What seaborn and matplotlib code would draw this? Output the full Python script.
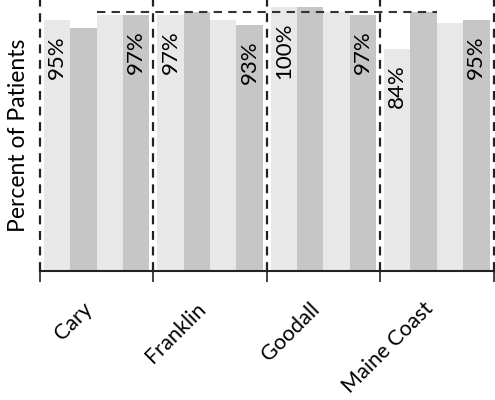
import numpy as np
import pandas as pd
import matplotlib
matplotlib.use("Agg")
import matplotlib.pyplot as plt
import seaborn as sns

# Sites and the four measures shown per site (percent of patients)
sites = ["Cary", "Franklin", "Goodall", "Maine Coast"]
measures = ["Measure 1", "Measure 2", "Measure 3", "Measure 4"]
measure_1 = [95, 97, 100, 84]
measure_2 = [92, 98, 100, 98]
measure_3 = [97, 95, 98, 94]
measure_4 = [97, 93, 97, 95]
target_level = 98

values = [measure_1, measure_2, measure_3, measure_4]
df = pd.DataFrame(
    [(s, m, v) for m, vals in zip(measures, values) for s, v in zip(sites, vals)],
    columns=["site", "measure", "pct"],
)

light = "#e8e8e8"
dark = "#c6c6c6"

sns.set_theme(style="white")
plt.rcParams["font.family"] = ["Lato", "DejaVu Sans"]

fig = plt.figure(figsize=(4.95, 4.0), dpi=100)
ax = fig.add_axes([40 / 495, 129 / 400, 453.5 / 495, 271 / 400])

sns.barplot(
    data=df, x="site", y="pct", hue="measure", order=sites, hue_order=measures,
    palette=[light, dark, light, dark], width=0.93, gap=0, saturation=1,
    edgecolor="none", linewidth=0, legend=False, ax=ax,
)

ax.set_xlim(-0.5, len(sites) - 0.5)
ax.set_ylim(0, 102.6)
ax.set_yticks([])
ax.set_xlabel("")
ax.set_ylabel("Percent of Patients", fontsize=16.5, labelpad=8, color="black")

# Site labels at category centres, boundary ticks between categories
ax.set_xticks(range(len(sites)))
ax.set_xticklabels(sites, rotation=45, ha="right", fontsize=15.5, color="black")
ax.set_xticks(np.arange(-0.5, len(sites), 1), minor=True)
ax.tick_params(axis="x", which="major", length=0, pad=20)
ax.tick_params(axis="x", which="minor", length=8, width=1.2, color="#222222",
               direction="out", bottom=True)

for side in ("left", "top", "right"):
    ax.spines[side].set_visible(False)
ax.spines["bottom"].set_color("#222222")
ax.spines["bottom"].set_linewidth(1.5)

# Dashed separators between sites
for xb in np.arange(-0.5, len(sites), 1):
    ax.axvline(xb, color="#222222", linewidth=1.6, linestyle=(0, (4, 3)),
               zorder=4, clip_on=False)

# Value labels inside the first and last bar of every site
for idx, vals in ((0, measure_1), (3, measure_4)):
    for bar, v in zip(ax.containers[idx], vals):
        cx = bar.get_x() + bar.get_width() / 2
        ax.annotate(f"{v}%", xy=(cx, v), xytext=(0, -11), textcoords="offset points",
                    rotation=90, ha="center", va="top", fontsize=16, color="black")

# Dashed reference line across the upper part of the chart
x_start = ax.containers[2][0].get_x()
last2 = ax.containers[1][len(sites) - 1]
x_end = last2.get_x() + last2.get_width()
ax.hlines(target_level, x_start, x_end, colors="#333333", linewidth=1.5,
          linestyles=(0, (4, 3)), zorder=5)

fig.savefig("out.png", dpi=100)
